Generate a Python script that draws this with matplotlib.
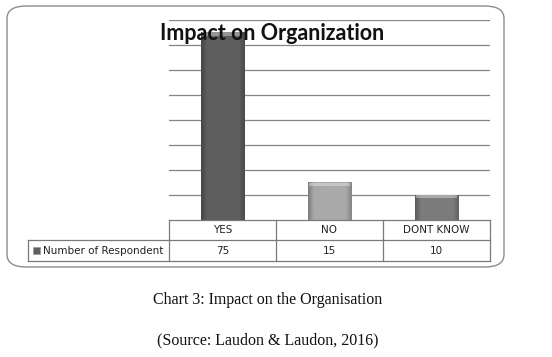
import matplotlib.pyplot as plt
import numpy as np
from matplotlib.patches import FancyBboxPatch, Rectangle
from matplotlib.lines import Line2D

# chart data
categories = ["YES", "NO", "DONT KNOW"]
respondents = [75, 15, 10]
series_name = "Number of Respondent"
bar_colors = ["#5e5e5e", "#a9a9a9", "#7c7c7c"]

title = "Impact on Organization"
caption = "Chart 3: Impact on the Organisation"
source = "(Source: Laudon & Laudon, 2016)"

W, H = 552, 357
fig = plt.figure(figsize=(W / 100, H / 100), dpi=100)


def fx(px):
    return px / W


def fy(py):
    return 1 - py / H


# rounded outer frame of the chart
frame = FancyBboxPatch((fx(7), fy(267)), fx(497), (267 - 6) / H,
                       boxstyle="round,pad=0,rounding_size=0.035",
                       transform=fig.transFigure, facecolor="white",
                       edgecolor="#8c8c8c", linewidth=1.0, zorder=-1)
fig.patches.append(frame)

ax = fig.add_axes([fx(169), fy(220), fx(490 - 169), (220 - 20) / H], zorder=2)
ax.set_facecolor("none")
x = np.arange(len(categories))
ax.set_yticks(np.arange(10, 81, 10))
ax.yaxis.grid(True, color="#858585", linewidth=0.9)
ax.set_axisbelow(True)
ax.tick_params(left=False, bottom=False, labelleft=False, labelbottom=False)
for s in ax.spines.values():
    s.set_visible(False)

bars = ax.bar(x, respondents, width=0.41, color=bar_colors, linewidth=0, zorder=2)

# soft bevel shading on each bar
for b, c in zip(bars, bar_colors):
    x0, w, h = b.get_x(), b.get_width(), b.get_height()
    base = np.array(plt.matplotlib.colors.to_rgb(c))
    prof = np.concatenate([np.linspace(0.75, 1.0, 6), np.ones(28), np.linspace(1.0, 0.8, 6)])
    img = np.clip(base[None, None, :] * prof[None, :, None], 0, 1)
    ax.imshow(img, extent=(x0, x0 + w, 0, h), aspect="auto", zorder=2.5, interpolation="bilinear")
    ax.add_patch(Rectangle((x0 + w * 0.04, h - 1.2), w * 0.92, 1.2,
                           facecolor="white", alpha=0.35, linewidth=0, zorder=3))
ax.set_xlim(-0.5, len(categories) - 0.5)
ax.set_ylim(0, 80)

fig.text(fx(272), fy(34), title, ha="center", va="center", fontsize=15.5,
         fontweight="bold", family="Lato", color="#111111", zorder=5)

# data table below the plot
lc = "#7a7a7a"
col_edges = [169, 276, 383, 490]
fig.lines.append(Line2D([fx(169), fx(490)], [fy(220), fy(220)], transform=fig.transFigure, color=lc, lw=0.9))
fig.lines.append(Line2D([fx(28), fx(490)], [fy(240), fy(240)], transform=fig.transFigure, color=lc, lw=0.9))
fig.lines.append(Line2D([fx(28), fx(490)], [fy(261), fy(261)], transform=fig.transFigure, color=lc, lw=0.9))
fig.lines.append(Line2D([fx(28), fx(28)], [fy(240), fy(261)], transform=fig.transFigure, color=lc, lw=0.9))
for cx in col_edges:
    fig.lines.append(Line2D([fx(cx), fx(cx)], [fy(220), fy(261)], transform=fig.transFigure, color=lc, lw=0.9))

for i, (cat, val) in enumerate(zip(categories, respondents)):
    cxm = (col_edges[i] + col_edges[i + 1]) / 2
    fig.text(fx(cxm), fy(230), cat, ha="center", va="center", fontsize=7.5, color="#222222")
    fig.text(fx(cxm), fy(251), str(val), ha="center", va="center", fontsize=7.5, color="#222222")

fig.patches.append(Rectangle((fx(33), fy(254)), fx(7), 7 / H, transform=fig.transFigure,
                             facecolor=bar_colors[0], edgecolor="#999999", linewidth=0.5))
fig.text(fx(43), fy(251), series_name, ha="left", va="center", fontsize=7.5, color="#222222")

fig.text(fx(268), fy(300), caption, ha="center", va="center", fontsize=11.5,
         family="Liberation Serif", color="#111111")
fig.text(fx(268), fy(340), source, ha="center", va="center", fontsize=11.5,
         family="Liberation Serif", color="#111111")

fig.savefig("out.png", dpi=100)
